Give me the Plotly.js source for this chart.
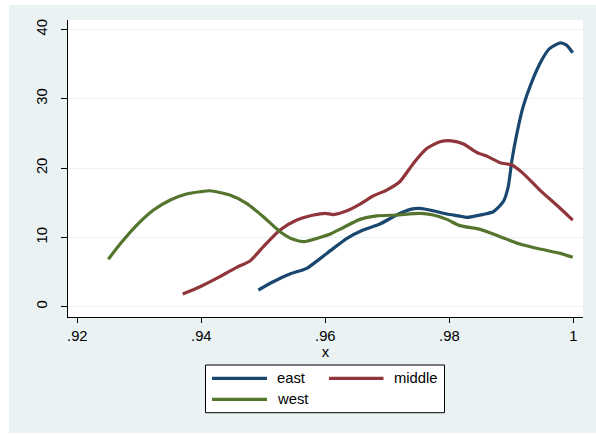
<!DOCTYPE html>
<html>
<head>
<meta charset="utf-8">
<script src="https://cdn.plot.ly/plotly-3.0.1.min.js"></script>
<style>
  html, body { margin: 0; padding: 0; background: #ffffff; width: 596px; height: 436px; overflow: hidden; }
  #plot { position: absolute; left: 9px; top: 5px; width: 587px; height: 428px; }
</style>
</head>
<body>
<div id="plot"></div>
<script>
// ---- data ----
var seriesNames = ["east", "middle", "west"];

var eastX = [0.9492, 0.9516, 0.9543, 0.9570, 0.9591, 0.9613, 0.9635, 0.9661, 0.9688, 0.9715,
             0.9737, 0.9753, 0.9774, 0.9796, 0.9817, 0.9828, 0.9855, 0.9871, 0.9887, 0.9895,
             0.9901, 0.9909, 0.9919, 0.9933, 0.9949, 0.9962, 0.9979, 0.9989, 0.9999];
var eastY = [2.41, 3.6, 4.72, 5.54, 6.9, 8.42, 9.87, 11.06, 11.93, 13.23,
             14.05, 14.19, 13.85, 13.37, 13.08, 12.89, 13.33, 13.7, 15.15, 17.31,
             21.16, 25.01, 28.85, 32.45, 35.58, 37.27, 38.08, 37.75, 36.64];

var middleX = [0.9370, 0.9398, 0.9430, 0.9457, 0.9479, 0.9500, 0.9527, 0.9554, 0.9581, 0.9600,
               0.9613, 0.9635, 0.9656, 0.9677, 0.9699, 0.9720, 0.9742, 0.9764, 0.9785, 0.9803,
               0.9823, 0.9844, 0.9860, 0.9882, 0.9901, 0.9919, 0.9946, 0.9973, 0.9999];
var middleY = [1.83, 2.88, 4.33, 5.68, 6.64, 8.65, 11.06, 12.5, 13.23, 13.47,
               13.3, 13.85, 14.81, 15.97, 16.83, 18.03, 20.68, 22.85, 23.8, 23.94,
               23.47, 22.27, 21.74, 20.77, 20.44, 19.24, 16.83, 14.67, 12.5];

var westX = [0.9250, 0.9269, 0.9296, 0.9323, 0.9350, 0.9376, 0.9398, 0.9414, 0.9446, 0.9473,
             0.9500, 0.9527, 0.9548, 0.9565, 0.9581, 0.9595, 0.9608, 0.9624, 0.9656, 0.9683,
             0.9715, 0.9753, 0.9774, 0.9796, 0.9817, 0.9850, 0.9882, 0.9914, 0.9946, 0.9979, 0.9999];
var westY = [6.84, 9.04, 11.78, 13.95, 15.39, 16.26, 16.59, 16.73, 16.11, 14.91,
             12.98, 10.82, 9.72, 9.38, 9.72, 10.1, 10.5, 11.2, 12.6, 13.1,
             13.23, 13.47, 13.23, 12.6, 11.7, 11.16, 10.1, 9.04, 8.32, 7.7, 7.12];

var xTickVals = [0.92, 0.94, 0.96, 0.98, 1];
var xTickText = [".92", ".94", ".96", ".98", "1"];
var yTickVals = [0, 10, 20, 30, 40];
var yTickText = ["0", "10", "20", "30", "40"];

// ---- styles ----
var colors = ["#1a476f", "#90353b", "#55752f"];
var FONT = "Liberation Sans, Arial, sans-serif";
var LW = 3.2;

var xs = [eastX, middleX, westX];
var ys = [eastY, middleY, westY];
var traces = seriesNames.map(function (n, i) {
  return {
    type: "scatter", mode: "lines", name: n,
    x: xs[i], y: ys[i],
    line: { color: colors[i], width: LW, shape: "spline", smoothing: 0.6 },
    hoverinfo: "skip"
  };
});

// plot area in page pixels (for manual legend placement)
var PL = 68, PR = 583, PT = 20, PB = 317;
function px(v) { return (v - PL) / (PR - PL); }
function py(v) { return (PB - v) / (PB - PT); }

var legendRows = [
  { name: seriesNames[0], color: colors[0], lx0: 212, lx1: 267, tx: 276, y: 378.3 },
  { name: seriesNames[1], color: colors[1], lx0: 329, lx1: 383.5, tx: 392.5, y: 378.3 },
  { name: seriesNames[2], color: colors[2], lx0: 212, lx1: 267, tx: 276, y: 399.3 }
];

var shapes = [{
  type: "rect", xref: "paper", yref: "paper",
  x0: px(205.5), x1: px(444.5), y0: py(412.7), y1: py(365),
  line: { color: "#000000", width: 1 }, fillcolor: "#ffffff", layer: "above"
}];
var annotations = [];
legendRows.forEach(function (r) {
  shapes.push({
    type: "line", xref: "paper", yref: "paper",
    x0: px(r.lx0), x1: px(r.lx1), y0: py(r.y), y1: py(r.y),
    line: { color: r.color, width: LW }, layer: "above"
  });
  annotations.push({
    xref: "paper", yref: "paper", x: px(r.tx), y: py(r.y),
    xanchor: "left", yanchor: "middle", showarrow: false,
    text: r.name, borderpad: 0,
    font: { family: FONT, size: 14.8, color: "#000000" }
  });
});

var layout = {
  width: 587, height: 428,
  margin: { l: 59, r: 13, t: 15, b: 116, pad: 0 },
  paper_bgcolor: "#eaf2f3",
  plot_bgcolor: "#ffffff",
  showlegend: false,
  font: { family: FONT, size: 14.8, color: "#000000" },
  xaxis: {
    range: [0.9185, 1.00156],
    tickvals: xTickVals, ticktext: xTickText,
    ticks: "outside", ticklen: 5, tickwidth: 1, tickcolor: "#000000",
    showline: true, linecolor: "#000000", linewidth: 1,
    showgrid: false, zeroline: false,
    tickfont: { family: FONT, size: 14.8, color: "#000000" },
    title: { text: "x", standoff: 0, font: { family: FONT, size: 14.8, color: "#000000" } }
  },
  yaxis: {
    range: [-1.486, 41.37],
    tickvals: yTickVals, ticktext: yTickText,
    tickangle: -90,
    ticks: "outside", ticklen: 6, tickwidth: 1, tickcolor: "#000000",
    ticklabelstandoff: 8,
    showline: true, linecolor: "#000000", linewidth: 1,
    showgrid: true, gridcolor: "#eaf2f3", gridwidth: 1,
    zeroline: false,
    tickfont: { family: FONT, size: 14.8, color: "#000000" }
  },
  shapes: shapes,
  annotations: annotations
};

Plotly.newPlot("plot", traces, layout, { displayModeBar: false, staticPlot: true });
</script>
</body>
</html>
